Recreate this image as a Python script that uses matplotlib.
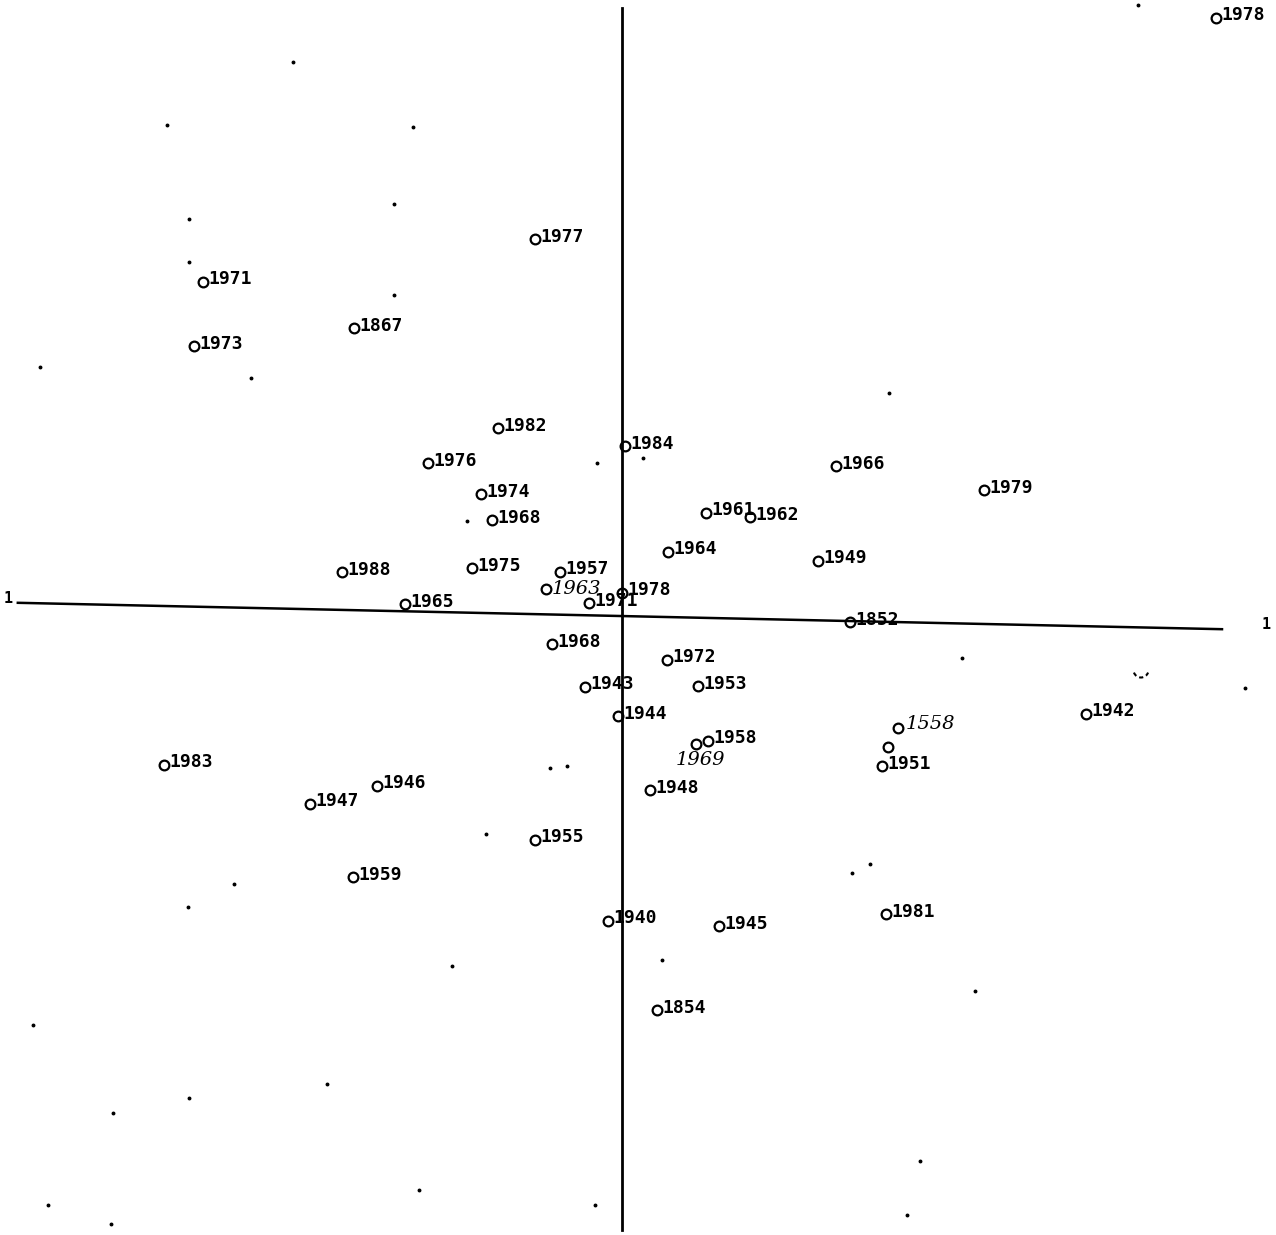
import matplotlib.pyplot as plt
from matplotlib.patches import Arc

# labelled points (factor plane coordinates)
years = ['1978', '1977', '1971', '1867', '1973', '1982', '1976', '1974', '1968',
         '1984', '1966', '1979', '1961', '1962', '1964', '1949', '1988', '1975',
         '1957', '1971', '1978', '1965', '1852', '1968', '1972', '1943', '1953',
         '1944', '1958', '1951', '1942', '1983', '1946', '1947', '1948', '1955',
         '1959', '1940', '1945', '1981', '1854']
xs = [0.990, -0.145, -0.698, -0.447, -0.713, -0.207, -0.323, -0.235, -0.217,
      0.005, 0.357, 0.603, 0.140, 0.213, 0.077, 0.327, -0.467, -0.250,
      -0.103, -0.055, 0.000, -0.362, 0.380, -0.117, 0.075, -0.062, 0.127,
      -0.007, 0.143, 0.433, 0.773, -0.763, -0.408, -0.520, 0.047, -0.145,
      -0.448, -0.023, 0.162, 0.440, 0.058]
ys = [0.992, 0.623, 0.552, 0.475, 0.445, 0.308, 0.250, 0.198, 0.155,
      0.278, 0.245, 0.205, 0.167, 0.160, 0.102, 0.087, 0.068, 0.075,
      0.069, 0.016, 0.034, 0.015, -0.015, -0.052, -0.078, -0.123, -0.122,
      -0.172, -0.213, -0.255, -0.168, -0.253, -0.288, -0.318, -0.295, -0.378,
      -0.440, -0.513, -0.522, -0.502, -0.662]

# circles whose labels were written in by hand
hand_years = ['1963', '1969', '1558']
hand_cx = [-0.127, 0.123, 0.460]
hand_cy = [0.040, -0.218, -0.192]
hand_tx = [-0.118, 0.090, 0.473]
hand_ty = [0.040, -0.245, -0.185]

# unlabelled circle
extra_x = [0.443]
extra_y = [-0.223]

# stray dots (supplementary points)
dot_x = [-0.548, -0.758, -0.348, -0.380, -0.722, -0.722, -0.380, -0.970, -0.618,
         -0.042, 0.035, -0.258, 0.445, 0.860, 0.567, 1.038, -0.120, -0.092,
         -0.227, -0.647, -0.723, 0.413, 0.383, -0.283, 0.067, 0.588, -0.982,
         -0.492, -0.722, -0.848, 0.497, -0.957, -0.852, -0.338, -0.045, 0.475]
dot_y = [0.918, 0.813, 0.810, 0.682, 0.657, 0.585, 0.530, 0.410, 0.392,
         0.250, 0.258, 0.153, 0.367, 1.013, -0.075, -0.125, -0.258, -0.255,
         -0.368, -0.452, -0.490, -0.418, -0.433, -0.588, -0.578, -0.630, -0.687,
         -0.785, -0.808, -0.833, -0.913, -0.987, -1.018, -0.962, -0.987, -1.003]

fig = plt.figure(figsize=(12.76, 12.35), dpi=100)
ax = fig.add_axes([0, 0, 1, 1])
ax.set_xlim(-1.0367, 1.09)
ax.set_ylim(-1.0367, 1.0217)
ax.axis('off')

# axes of the factor plane
ax.plot([0, 0], [1.008, -1.028], color='black', lw=2)
ax.plot([-1.007, 1.0], [0.017, -0.027], color='black', lw=1.8)
ax.text(-1.023, 0.025, '1', fontsize=11, fontweight='bold', family='DejaVu Sans Mono',
        ha='center', va='center')
ax.text(1.073, -0.02, '1', fontsize=11, fontweight='bold', family='DejaVu Sans Mono',
        ha='center', va='center')

ax.plot(xs, ys, 'o', mfc='none', mec='black', ms=7, mew=1.6)
for x, y, t in zip(xs, ys, years):
    ax.text(x + 0.009, y + 0.004, t, fontsize=13, fontweight='bold',
            family='DejaVu Sans Mono', ha='left', va='center')

ax.plot(hand_cx + extra_x, hand_cy + extra_y, 'o', mfc='none', mec='black', ms=7, mew=1.6)
for x, y, t in zip(hand_tx, hand_ty, hand_years):
    ax.text(x, y, t, fontsize=14, style='italic', family='DejaVu Serif',
            ha='left', va='center')

ax.plot(dot_x, dot_y, 'o', color='black', ms=1.8)
ax.add_patch(Arc((0.865, -0.095), 0.025, 0.025, theta1=200, theta2=340,
                 color='black', lw=1.5, ls=(0, (2, 1.5))))

fig.savefig('out.png', dpi=100)
